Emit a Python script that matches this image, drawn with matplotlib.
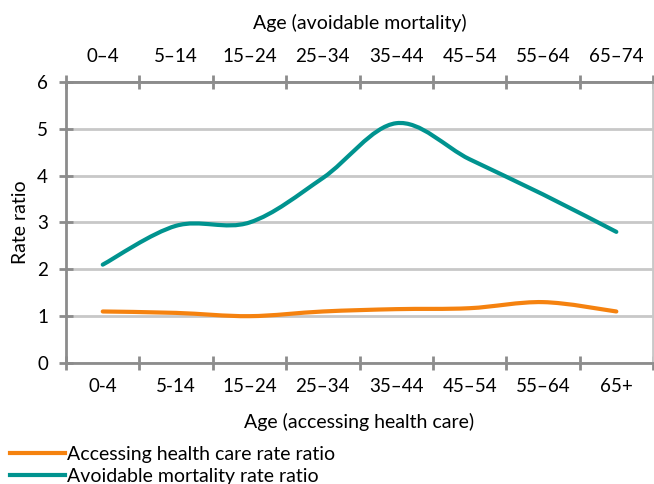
import numpy as np
import matplotlib.pyplot as plt
from matplotlib.path import Path
from matplotlib.patches import PathPatch
from matplotlib.lines import Line2D

plt.rcParams['font.family'] = ['Lato', 'DejaVu Sans']

# данные
bottom_labels = ['0-4', '5-14', '15–24', '25–34', '35–44', '45–54', '55–64', '65+']
top_labels = ['0–4', '5–14', '15–24', '25–34', '35–44', '45–54', '55–64', '65–74']
health_care = [1.1, 1.07, 1.0, 1.1, 1.15, 1.17, 1.3, 1.1]
mortality = [2.1, 2.93, 3.0, 3.95, 5.12, 4.35, 3.6, 2.8]

ORANGE = '#F5820F'
TEAL = '#00938F'
GRID = '#c8c8c8'
SPINE = '#8c8c8c'


def smooth_path(xs, ys):
    """Сглаженная линия как в Excel (кривые Безье через точки)."""
    pts = np.column_stack([xs, ys]).astype(float)
    ext = np.vstack([pts[0], pts, pts[-1]])
    verts = [pts[0]]
    codes = [Path.MOVETO]
    for i in range(len(pts) - 1):
        p0, p1, p2, p3 = ext[i], ext[i + 1], ext[i + 2], ext[i + 3]
        verts += [p1 + (p2 - p0) / 6, p2 - (p3 - p1) / 6, p2]
        codes += [Path.CURVE4] * 3
    return Path(verts, codes)


fig = plt.figure(figsize=(6.54, 4.84), dpi=100)
ax = fig.add_axes([0.101, 0.25, 0.8975, 0.5806])

x = np.arange(len(bottom_labels))
for vals, col in [(health_care, ORANGE), (mortality, TEAL)]:
    patch = PathPatch(smooth_path(x, vals), facecolor='none', edgecolor=col,
                      linewidth=3, capstyle='round', zorder=3)
    ax.add_patch(patch)

ax.set_xlim(-0.5, len(x) - 0.5)
ax.set_ylim(0, 6)
ax.set_yticks(range(7))
ax.yaxis.grid(True, color=GRID, linewidth=2)
ax.set_axisbelow(True)

for side in ['left', 'right', 'top', 'bottom']:
    ax.spines[side].set_color(SPINE)
    ax.spines[side].set_linewidth(2)
ax.spines['right'].set_color(GRID)

ax.set_xticks(x)
ax.set_xticklabels(bottom_labels, fontsize=13.5)
ax.set_xticks(np.arange(-0.5, len(x)), minor=True)
ax.tick_params(axis='x', which='major', length=0, pad=11)
ax.tick_params(axis='x', which='minor', length=10, width=2, color=SPINE, direction='inout')
ax.tick_params(axis='y', length=10, width=2, color=SPINE, direction='inout', labelsize=13.5, pad=8)
ax.set_xlabel('Age (accessing health care)', fontsize=14, labelpad=13)
ax.set_ylabel('Rate ratio', fontsize=14, labelpad=6)

top = ax.secondary_xaxis('top')
top.set_xticks(x)
top.set_xticklabels(top_labels, fontsize=13.5)
top.set_xticks(np.arange(-0.5, len(x)), minor=True)
top.tick_params(axis='x', which='major', length=0, pad=12)
top.tick_params(axis='x', which='minor', length=10, width=2, color=SPINE, direction='inout')
top.spines['top'].set_color(SPINE)
top.spines['top'].set_linewidth(2)
top.set_xlabel('Age (avoidable mortality)', fontsize=14, labelpad=14)

handles = [Line2D([], [], color=ORANGE, linewidth=3),
           Line2D([], [], color=TEAL, linewidth=3)]
fig.legend(handles, ['Accessing health care rate ratio', 'Avoidable mortality rate ratio'],
           loc='upper left', bbox_to_anchor=(0.0153, 0.078), frameon=False,
           fontsize=14, handlelength=2.85, handletextpad=0.1, labelspacing=0.25,
           borderaxespad=0, borderpad=0)

fig.savefig('out.png', dpi=100)
